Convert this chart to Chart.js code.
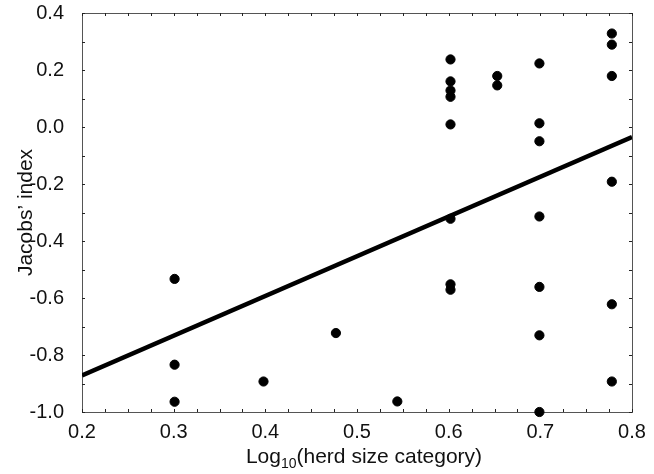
<!DOCTYPE html>
<html>
<head>
<meta charset="utf-8">
<script src="https://cdn.jsdelivr.net/npm/chart.js@4/dist/chart.umd.min.js"></script>
<style>
  html, body { margin: 0; padding: 0; background: #fff; }
  #wrap { width: 654px; height: 474px; }
</style>
</head>
<body>
<div id="wrap"><canvas id="chart"></canvas></div>
<script>
// log10 of herd size category, one entry per point
const herdX = [
  0.301, 0.301, 0.301,
  0.398,
  0.477,
  0.544,
  0.602, 0.602, 0.602, 0.602, 0.602, 0.602, 0.602, 0.602,
  0.653, 0.653,
  0.699, 0.699, 0.699, 0.699, 0.699, 0.699, 0.699,
  0.778, 0.778, 0.778, 0.778, 0.778, 0.778
];
// Jacobs' index
const jacobsY = [
  -0.533, -0.834, -0.964,
  -0.893,
  -0.723,
  -0.963,
  0.237, 0.160, 0.128, 0.106, 0.009, -0.322, -0.552, -0.571,
  0.179, 0.146,
  0.223, 0.013, -0.050, -0.314, -0.561, -0.731, -1.000,
  0.328, 0.289, 0.179, -0.192, -0.622, -0.893
];
// fitted regression line end points
const fitX = [0.2, 0.8];
const fitY = [-0.872, -0.035];

const xTicks = [0.2, 0.3, 0.4, 0.5, 0.6, 0.7, 0.8];
const yTicks = [-1.0, -0.8, -0.6, -0.4, -0.2, 0.0, 0.2, 0.4];

const FONT = '"Liberation Sans", Arial, Helvetica, sans-serif';

// frame with inward ticks on all four sides, plus the axis titles
const framePlugin = {
  id: 'frame',
  beforeDatasetsDraw(chart) {
    const { ctx, chartArea: a, scales } = chart;
    ctx.save();
    ctx.strokeStyle = '#555';
    ctx.lineWidth = 1;
    ctx.strokeRect(a.left + 0.5, a.top + 0.5, a.right - a.left, a.bottom - a.top);
    ctx.strokeStyle = '#222';
    ctx.beginPath();
    for (let v = 0.2; v <= 0.8001; v += 0.025) {
      const px = Math.round(scales.x.getPixelForValue(v)) + 0.5;
      ctx.moveTo(px, a.bottom); ctx.lineTo(px, a.bottom - 3);
      ctx.moveTo(px, a.top); ctx.lineTo(px, a.top + 3);
    }
    for (let v = -1.0; v <= 0.4001; v += 0.1) {
      const py = Math.round(scales.y.getPixelForValue(v)) + 0.5;
      ctx.moveTo(a.left, py); ctx.lineTo(a.left + 3, py);
      ctx.moveTo(a.right, py); ctx.lineTo(a.right - 3, py);
    }
    ctx.stroke();
    ctx.restore();
  },
  afterDraw(chart) {
    const { ctx, chartArea: a } = chart;
    ctx.save();
    ctx.fillStyle = '#111';
    ctx.textBaseline = 'alphabetic';
    // x title with subscript
    const big = '21px ' + FONT, small = '14px ' + FONT;
    const p1 = 'Log', p2 = '10', p3 = '(herd size category)';
    ctx.font = big;
    const w1 = ctx.measureText(p1).width, w3 = ctx.measureText(p3).width;
    ctx.font = small;
    const w2 = ctx.measureText(p2).width;
    let x = (a.left + a.right) / 2 + 7 - (w1 + w2 + w3) / 2;
    const base = 463;
    ctx.textAlign = 'left';
    ctx.font = big; ctx.fillText(p1, x, base); x += w1;
    ctx.font = small; ctx.fillText(p2, x, base + 5); x += w2;
    ctx.font = big; ctx.fillText(p3, x, base);
    // y title
    ctx.translate(32, (a.top + a.bottom) / 2);
    ctx.rotate(-Math.PI / 2);
    ctx.textAlign = 'center';
    ctx.font = '21px ' + FONT;
    ctx.fillText('Jacobs\u2019 index', 0, 0);
    ctx.restore();
  }
};

new Chart(document.getElementById('chart'), {
  type: 'scatter',
  data: {
    datasets: [{
      label: 'points',
      data: herdX.map((v, i) => ({ x: v, y: jacobsY[i] })),
      backgroundColor: '#000',
      borderColor: '#000',
      pointRadius: 4.6,
      pointHoverRadius: 4.6,
      clip: false
    }, {
      type: 'line',
      label: 'fit',
      data: fitX.map((v, i) => ({ x: v, y: fitY[i] })),
      borderColor: '#000',
      borderWidth: 4.5,
      pointRadius: 0,
      fill: false
    }]
  },
  options: {
    responsive: true,
    maintainAspectRatio: false,
    animation: false,
    layout: { padding: { top: 13, right: 22, left: 0, bottom: 0 } },
    plugins: { legend: { display: false }, tooltip: { enabled: false } },
    scales: {
      x: {
        type: 'linear',
        min: 0.2, max: 0.8,
        afterBuildTicks: s => { s.ticks = xTicks.map(v => ({ value: v })); },
        afterFit: s => { s.height = 62; s.paddingLeft = 0; s.paddingRight = 0; },
        grid: { display: false },
        border: { display: false },
        ticks: {
          color: '#111', padding: 0,
          font: { family: FONT, size: 20 },
          maxRotation: 0,
          callback: v => v.toFixed(1)
        }
      },
      y: {
        type: 'linear',
        min: -1.0, max: 0.4,
        afterBuildTicks: s => { s.ticks = yTicks.map(v => ({ value: v })); },
        afterFit: s => { s.width = 82; s.paddingTop = 0; s.paddingBottom = 0; },
        grid: { display: false },
        border: { display: false },
        ticks: {
          color: '#111', padding: 10,
          font: { family: FONT, size: 20 },
          callback: v => v.toFixed(1)
        }
      }
    }
  },
  plugins: [framePlugin]
});
</script>
</body>
</html>
